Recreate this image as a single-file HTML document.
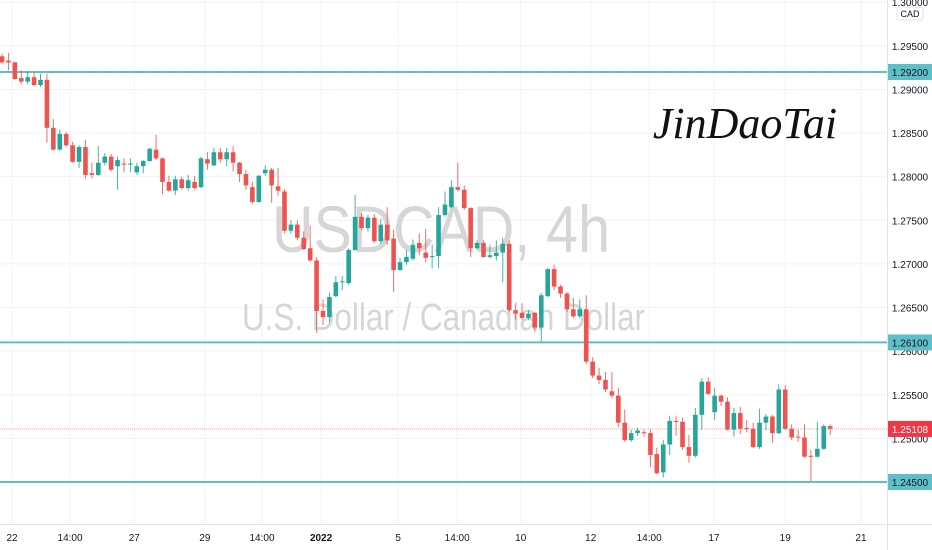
<!DOCTYPE html>
<html><head><meta charset="utf-8"><style>
html,body{margin:0;padding:0;background:#fff;}
svg{display:block;font-family:"Liberation Sans",sans-serif;}
</style></head><body>
<svg id="chart" width="932" height="550" viewBox="0 0 932 550">
<rect x="0" y="0" width="932" height="550" fill="#fff"/>
<g id="grid"></g>
<text x="272" y="252" font-size="66" textLength="338" lengthAdjust="spacingAndGlyphs" fill="#d6d6d8">USDCAD, 4h</text>
<text x="242" y="330" font-size="38" textLength="403" lengthAdjust="spacingAndGlyphs" fill="#d6d6d8">U.S. Dollar / Canadian Dollar</text>
<text x="745" y="138" text-anchor="middle" font-size="44" font-style="italic" font-family="'Liberation Serif',serif" fill="#111">JinDaoTai</text>
<g id="levels"></g>
<g id="candles"></g>
<g id="axes"></g>
</svg>
<script>
const dates=["22","14:00","27","29","14:00","2022","5","14:00","10","12","14:00","17","19","21"];
const dateIdx=[1.56,10.6,20.6,31.6,40.5,49.7,61.7,70.9,80.8,91.7,100.8,110.9,122,133.8];
const priceTicks=[1.30,1.295,1.29,1.285,1.28,1.275,1.27,1.265,1.26,1.255,1.25,1.245];
const levels=[1.292,1.261,1.245];
const lastPrice=1.25108;
const opens=[1.2938,1.2933,1.2931,1.2913,1.2909,1.2914,1.2905,1.2911,1.2856,1.2831,1.2849,1.2836,1.2817,1.2834,1.2804,1.2802,1.2816,1.2823,1.2812,1.2815,1.2814,1.2805,1.2812,1.2818,1.2831,1.2821,1.2794,1.2784,1.2797,1.2787,1.2794,1.2788,1.2820,1.2813,1.2828,1.2820,1.2828,1.2816,1.2803,1.2788,1.2771,1.2804,1.2808,1.2789,1.2783,1.2738,1.2745,1.2730,1.2718,1.2704,1.2646,1.2639,1.2663,1.2679,1.2678,1.2716,1.2754,1.2741,1.2753,1.2726,1.2745,1.2729,1.2693,1.2702,1.2706,1.2724,1.2713,1.2708,1.2709,1.2756,1.2765,1.2788,1.2785,1.2764,1.2718,1.2724,1.2708,1.2709,1.2713,1.2723,1.2647,1.2644,1.2638,1.2644,1.2627,1.2663,1.2694,1.2674,1.2666,1.2648,1.2640,1.2648,1.2588,1.2572,1.2567,1.2554,1.2549,1.2518,1.2498,1.2506,1.2507,1.2506,1.2482,1.2461,1.2493,1.2520,1.2519,1.2490,1.2480,1.2527,1.2565,1.2530,1.2549,1.2542,1.2510,1.2529,1.2512,1.2511,1.2490,1.2518,1.2525,1.2506,1.2556,1.2511,1.2502,1.2501,1.2480,1.2479,1.2488,1.2514];
const highs=[1.2941,1.2942,1.2932,1.2922,1.2920,1.2920,1.2918,1.2918,1.2866,1.2854,1.2851,1.2840,1.2836,1.2842,1.2816,1.2835,1.2827,1.2826,1.2823,1.2821,1.2821,1.2816,1.2819,1.2833,1.2848,1.2822,1.2801,1.2801,1.2800,1.2802,1.2801,1.2823,1.2828,1.2833,1.2833,1.2833,1.2835,1.2817,1.2808,1.2794,1.2802,1.2813,1.2810,1.2810,1.2786,1.2750,1.2750,1.2737,1.2744,1.2708,1.2659,1.2667,1.2686,1.2686,1.2718,1.2779,1.2758,1.2756,1.2757,1.2752,1.2765,1.2739,1.2707,1.2716,1.2728,1.2735,1.2740,1.2722,1.2765,1.2783,1.2796,1.2816,1.2790,1.2765,1.2727,1.2727,1.2722,1.2727,1.2730,1.2727,1.2653,1.2655,1.2647,1.2645,1.2667,1.2695,1.2699,1.2676,1.2668,1.2661,1.2659,1.2664,1.2593,1.2581,1.2576,1.2576,1.2558,1.2533,1.2510,1.2512,1.2510,1.2510,1.2489,1.2498,1.2526,1.2526,1.2524,1.2504,1.2535,1.2569,1.2570,1.2558,1.2550,1.2547,1.2535,1.2536,1.2521,1.2518,1.2534,1.2528,1.2527,1.2562,1.2561,1.2516,1.2510,1.2516,1.2487,1.2519,1.2516,1.2516];
const lows=[1.2930,1.2922,1.2911,1.2906,1.2906,1.2904,1.2903,1.2839,1.2830,1.2830,1.2834,1.2816,1.2810,1.2798,1.2798,1.2801,1.2813,1.2806,1.2785,1.2805,1.2805,1.2802,1.2804,1.2817,1.2819,1.2780,1.2783,1.2779,1.2785,1.2784,1.2785,1.2787,1.2808,1.2812,1.2816,1.2812,1.2806,1.2794,1.2785,1.2769,1.2770,1.2801,1.2770,1.2778,1.2735,1.2735,1.2727,1.2716,1.2703,1.2621,1.2630,1.2633,1.2662,1.2670,1.2676,1.2715,1.2739,1.2737,1.2724,1.2723,1.2722,1.2668,1.2692,1.2699,1.2704,1.2710,1.2702,1.2695,1.2695,1.2754,1.2764,1.2783,1.2762,1.2708,1.2716,1.2707,1.2706,1.2704,1.2679,1.2645,1.2636,1.2636,1.2636,1.2622,1.2611,1.2662,1.2670,1.2661,1.2645,1.2638,1.2638,1.2585,1.2569,1.2562,1.2553,1.2546,1.2513,1.2496,1.2496,1.2503,1.2502,1.2467,1.2459,1.2455,1.2481,1.2503,1.2487,1.2472,1.2478,1.2510,1.2550,1.2521,1.2537,1.2509,1.2502,1.2505,1.2507,1.2489,1.2488,1.2509,1.2495,1.2505,1.2510,1.2498,1.2496,1.2478,1.2451,1.2478,1.2487,1.2504];
const closes=[1.2931,1.2931,1.2912,1.2909,1.2914,1.2905,1.2911,1.2856,1.2831,1.2849,1.2836,1.2817,1.2834,1.2802,1.2802,1.2816,1.2823,1.2808,1.2819,1.2814,1.2815,1.2812,1.2818,1.2832,1.2821,1.2794,1.2784,1.2797,1.2787,1.2796,1.2787,1.2821,1.2815,1.2828,1.2820,1.2828,1.2816,1.2803,1.2790,1.2771,1.2801,1.2808,1.2790,1.2784,1.2738,1.2745,1.2730,1.2717,1.2704,1.2646,1.2639,1.2662,1.2679,1.2680,1.2716,1.2754,1.2741,1.2753,1.2726,1.2745,1.2727,1.2693,1.2702,1.2708,1.2722,1.2718,1.2707,1.2709,1.2756,1.2768,1.2788,1.2785,1.2764,1.2718,1.2724,1.2708,1.2710,1.2713,1.2723,1.2647,1.2643,1.2638,1.2643,1.2627,1.2664,1.2694,1.2674,1.2666,1.2648,1.2640,1.2648,1.2588,1.2572,1.2567,1.2556,1.2549,1.2518,1.2498,1.2506,1.2509,1.2506,1.2481,1.2460,1.2493,1.2520,1.2519,1.2490,1.2480,1.2527,1.2565,1.2551,1.2549,1.2542,1.2510,1.2529,1.2511,1.2511,1.2490,1.2518,1.2525,1.2506,1.2556,1.2511,1.2501,1.2501,1.2479,1.2479,1.2488,1.2514,1.2511];

const NS="http://www.w3.org/2000/svg";
const PLOT_R=887, AXIS_Y=524;
function xS(i){return 2+i*6.42;}
function yS(p){return 72+(1.292-p)*8723;}
function mk(tag,attrs,parent){const e=document.createElementNS(NS,tag);for(const k in attrs)e.setAttribute(k,attrs[k]);parent.appendChild(e);return e;}
const grid=document.getElementById('grid'),lv=document.getElementById('levels'),cg=document.getElementById('candles'),ax=document.getElementById('axes');

priceTicks.forEach(p=>{
  const l=mk('line',{x1:0,x2:PLOT_R,y1:yS(p),y2:yS(p),stroke:'#f0f3fa','stroke-width':1},grid);
  
  
});
dateIdx.forEach((d,i)=>{
  const l=mk('line',{x1:xS(d),x2:xS(d),y1:0,y2:AXIS_Y,stroke:'#f0f3fa','stroke-width':1},grid);
  
  
});

levels.forEach(p=>{
  const l=mk('line',{x1:0,x2:PLOT_R,y1:yS(p),y2:yS(p),stroke:'#5fbfc9','stroke-width':2},lv);
  
  
});
const pl=mk('line',{x1:0,x2:PLOT_R,y1:yS(lastPrice),y2:yS(lastPrice),stroke:'#f5a3a3','stroke-width':1,'stroke-dasharray':'1 1'},lv);



opens.forEach((o,i)=>{
  const c=closes[i],up=c>=o,col=up?'#26a69a':'#ef5350',x=xS(i);
  const g=mk('g',{},cg);
  
  
  mk('line',{x1:x,x2:x,y1:yS(highs[i]),y2:yS(lows[i]),stroke:col,'stroke-width':1,'stroke-opacity':0.85},g);
  const t=yS(Math.max(o,c)),b=yS(Math.min(o,c));
  mk('rect',{x:x-2.3,y:t,width:4.6,height:Math.max(1,b-t),fill:col},g);
});

mk('line',{x1:PLOT_R+0.5,x2:PLOT_R+0.5,y1:0,y2:550,stroke:'#e0e3eb','stroke-width':1},ax);
mk('line',{x1:0,x2:932,y1:AXIS_Y+0.5,y2:AXIS_Y+0.5,stroke:'#e0e3eb','stroke-width':1},ax);
priceTicks.forEach(p=>{
  const t=mk('text',{x:910,y:yS(p)+4,'text-anchor':'middle','font-size':10,fill:'#131722'},ax);
  t.textContent=p.toFixed(5);
  
  
});
const cb=mk('rect',{x:897,y:7,width:26,height:13,rx:2,fill:'#fff',stroke:'#e0e3eb'},ax);


const ct=mk('text',{x:910,y:17,'text-anchor':'middle','font-size':9,fill:'#131722'},ax);
ct.textContent='CAD';


dates.forEach((d,i)=>{
  const t=mk('text',{x:xS(dateIdx[i]),y:541,'text-anchor':'middle','font-size':10,fill:'#131722','font-weight':d==='2022'?'bold':'normal'},ax);
  t.textContent=d;
  
  
});
levels.forEach(p=>{
  const r=mk('rect',{x:888,y:yS(p)-8,width:44,height:16,fill:'#5fbfc9'},ax);
  
  
  const t=mk('text',{x:910,y:yS(p)+4,'text-anchor':'middle','font-size':10,fill:'#131722'},ax);
  t.textContent=p.toFixed(5);
  
  
});
const lr=mk('rect',{x:888,y:yS(lastPrice)-8,width:44,height:16,fill:'#f23645'},ax);


const lt=mk('text',{x:910,y:yS(lastPrice)+4,'text-anchor':'middle','font-size':10,fill:'#fff'},ax);
lt.textContent=lastPrice.toFixed(5);


</script>
</body></html>
